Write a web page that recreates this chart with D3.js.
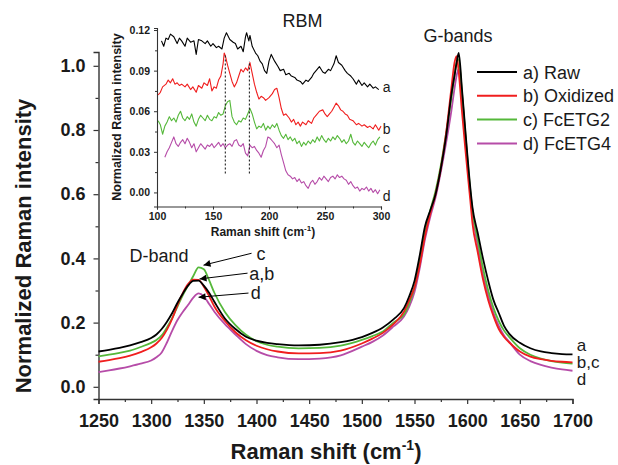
<!DOCTYPE html>
<html><head><meta charset="utf-8">
<script src="https://cdn.jsdelivr.net/npm/d3@7"></script>
<style>
body{margin:0;background:#fff}
svg{display:block}
text{font-family:"Liberation Sans",Arial,Helvetica,sans-serif;fill:#1a1a1a}
</style>
</head><body>
<svg id="chart" width="618" height="465"></svg>
<script>
// ---------- main spectra (Raman shift, cm-1) ----------
const shift = [1250,1260,1270,1280,1290,1300,1305,1310,1315,1320,1325,1330,1335,1340,1345,1350,1355,1360,1370,1380,1390,1400,1410,1420,1440,1460,1480,1500,1510,1520,1530,1540,1545,1550,1555,1560,1565,1570,1575,1580,1585,1588,1590,1592,1595,1598,1600,1603,1605,1610,1615,1620,1625,1630,1635,1640,1650,1660,1670,1680,1690,1700];
const rawI = [.110,.115,.121,.129,.139,.152,.163,.180,.203,.230,.262,.290,.315,.330,.331,.315,.293,.265,.213,.180,.156,.144,.137,.133,.129,.131,.139,.155,.168,.185,.210,.245,.282,.330,.410,.500,.550,.600,.680,.780,.910,.970,1.010,1.040,.930,.810,.730,.620,.560,.480,.400,.330,.270,.230,.190,.165,.137,.120,.110,.105,.102,.101];
const oxiI = [.078,.083,.089,.097,.108,.123,.135,.152,.178,.212,.255,.292,.320,.334,.333,.312,.283,.250,.205,.170,.145,.128,.117,.110,.104,.105,.113,.135,.150,.168,.195,.234,.270,.310,.380,.470,.540,.600,.680,.790,.930,1.010,1.030,.980,.860,.750,.680,.580,.510,.420,.335,.270,.220,.180,.155,.138,.110,.094,.086,.081,.078,.076];
const fc2I = [.095,.100,.106,.113,.124,.137,.146,.160,.185,.215,.250,.285,.315,.345,.372,.366,.332,.293,.233,.192,.162,.142,.131,.125,.120,.121,.128,.146,.158,.172,.200,.225,.260,.310,.390,.480,.550,.610,.690,.790,.900,.970,1.010,1.020,.920,.800,.720,.610,.550,.460,.370,.300,.245,.205,.175,.155,.120,.100,.088,.080,.075,.072];
const fc4I = [.046,.051,.057,.064,.072,.082,.092,.107,.138,.175,.208,.233,.255,.278,.291,.282,.258,.234,.195,.163,.133,.112,.099,.092,.086,.088,.098,.125,.140,.160,.188,.219,.250,.295,.370,.460,.530,.590,.670,.760,.860,.930,.970,.990,.910,.790,.710,.600,.540,.440,.350,.285,.230,.190,.160,.140,.100,.080,.068,.060,.054,.050];

// ---------- RBM inset spectra [shift, intensity] ----------
const rbmRaw = [[104,.112],[106,.108],[108,.114],[110,.113],[112,.117],[115,.115],[118,.110],[120,.114],[122,.112],[125,.108],[127,.114],[130,.111],[133,.112],[135,.102],[137,.113],[140,.112],[143,.110],[145,.112],[148,.108],[150,.110],[153,.107],[155,.108],[158,.106],[160,.114],[162,.118],[165,.113],[168,.111],[170,.110],[172,.106],[175,.108],[177,.104],[179,.115],[180,.118],[182,.112],[183,.116],[185,.108],[188,.103],[190,.101],[192,.097],[194,.095],[196,.090],[198,.088],[200,.097],[202,.102],[205,.097],[208,.093],[210,.090],[213,.091],[215,.087],[218,.088],[220,.086],[223,.085],[225,.083],[228,.082],[230,.080],[233,.083],[235,.082],[238,.085],[240,.088],[243,.091],[245,.093],[248,.089],[250,.088],[253,.091],[255,.090],[258,.095],[260,.101],[262,.096],[265,.094],[268,.090],[270,.088],[273,.086],[275,.084],[278,.080],[280,.083],[283,.079],[285,.081],[288,.078],[290,.080],[293,.077],[295,.078],[298,.076]];
const rbmOxi = [[101,.072],[103,.074],[105,.078],[108,.080],[110,.083],[112,.081],[114,.084],[116,.080],[118,.081],[120,.079],[122,.080],[125,.078],[127,.080],[130,.076],[132,.078],[135,.074],[137,.079],[140,.077],[142,.081],[145,.079],[147,.084],[149,.075],[151,.078],[153,.077],[155,.083],[157,.086],[159,.095],[160,.103],[161,.101],[163,.094],[165,.088],[167,.082],[169,.078],[171,.081],[173,.086],[175,.091],[177,.089],[179,.092],[181,.090],[183,.096],[185,.088],[187,.080],[189,.074],[191,.069],[193,.071],[195,.070],[197,.068],[200,.070],[203,.073],[205,.076],[207,.077],[209,.070],[211,.062],[213,.057],[215,.058],[218,.055],[220,.052],[222,.054],[224,.050],[226,.052],[228,.049],[230,.052],[233,.050],[235,.053],[238,.051],[240,.055],[242,.057],[245,.060],[248,.061],[250,.058],[252,.056],[254,.058],[256,.060],[258,.063],[260,.066],[262,.064],[264,.061],[266,.060],[268,.058],[270,.057],[272,.054],[275,.053],[278,.050],[280,.051],[283,.049],[285,.050],[288,.048],[290,.049],[293,.047],[295,.050],[298,.046],[300,.049]];
const rbmFc2 = [[101,.053],[103,.050],[105,.043],[107,.049],[109,.052],[111,.056],[113,.053],[115,.055],[117,.052],[119,.057],[121,.060],[123,.055],[125,.053],[127,.056],[129,.054],[131,.058],[133,.052],[135,.049],[137,.054],[139,.057],[141,.055],[143,.053],[145,.057],[147,.054],[149,.053],[151,.056],[153,.055],[155,.059],[157,.057],[159,.058],[161,.064],[163,.067],[165,.068],[167,.056],[169,.052],[171,.050],[173,.053],[175,.052],[177,.055],[179,.054],[181,.058],[183,.062],[185,.058],[187,.052],[189,.047],[191,.049],[193,.048],[195,.051],[197,.046],[199,.049],[201,.047],[203,.050],[205,.048],[207,.051],[209,.046],[211,.042],[213,.040],[215,.043],[217,.039],[219,.041],[221,.038],[223,.040],[225,.036],[227,.038],[229,.034],[231,.037],[233,.035],[235,.038],[237,.036],[239,.039],[241,.037],[243,.041],[245,.038],[247,.042],[249,.039],[251,.037],[253,.040],[255,.038],[257,.041],[259,.039],[261,.042],[263,.040],[265,.037],[267,.039],[269,.036],[271,.038],[273,.043],[275,.037],[277,.035],[279,.038],[281,.036],[283,.034],[285,.037],[287,.035],[289,.033],[291,.036],[293,.038],[295,.035],[297,.039],[299,.041]];
const rbmFc4 = [[107,.026],[109,.030],[111,.033],[113,.037],[115,.041],[117,.036],[119,.034],[121,.037],[123,.039],[125,.036],[127,.040],[129,.037],[131,.033],[133,.036],[135,.030],[137,.033],[139,.036],[141,.034],[143,.032],[145,.035],[147,.034],[149,.036],[151,.033],[153,.035],[155,.037],[157,.034],[159,.036],[161,.033],[163,.035],[165,.036],[167,.034],[169,.038],[171,.039],[173,.035],[175,.034],[177,.036],[179,.029],[181,.027],[183,.035],[185,.033],[187,.034],[189,.031],[191,.029],[193,.026],[195,.031],[197,.034],[199,.041],[201,.040],[203,.038],[205,.036],[207,.033],[209,.035],[211,.028],[213,.022],[215,.016],[217,.013],[219,.012],[221,.010],[223,.011],[225,.008],[227,.010],[229,.007],[231,.008],[233,.005],[235,.003],[237,.007],[239,.009],[241,.006],[243,.008],[245,.011],[247,.009],[249,.012],[251,.010],[253,.008],[255,.011],[257,.012],[259,.010],[261,.013],[263,.011],[265,.012],[267,.010],[269,.009],[271,.006],[273,.008],[275,.005],[277,.003],[279,.004],[281,.001],[283,.003],[285,.002],[287,.004],[289,.001],[291,.003],[293,.000],[295,.002],[297,-.001],[299,.002]];

// ---------- ticks / labels ----------
const xTicks = [1250,1300,1350,1400,1450,1500,1550,1600,1650,1700];
const xMinor = [1275,1325,1375,1425,1475,1525,1575,1625,1675];
const yTicks = [0.0,0.2,0.4,0.6,0.8,1.0];
const yMinor = [0.1,0.3,0.5,0.7,0.9];
const insXTicks = [100,150,200,250,300];
const insXMinor = [125,175,225,275];
const insYTicks = [0.00,0.03,0.06,0.09,0.12];
const insYMinor = [0.015,0.045,0.075,0.105];
const seriesNames = ["a) Raw","b) Oxidized","c) FcETG2","d) FcETG4"];
const seriesColors = ["#000000","#f01e1e","#55b83a","#b64ca8"];
const rbmMarkers = [161,182.5];

const svg = d3.select("#chart");

// ---------- scales ----------
const x = d3.scaleLinear().domain([1250,1700]).range([98.5,572.5]);
const y = d3.scaleLinear().domain([-0.038,1.043]).range([399,52]);
const ix = d3.scaleLinear().domain([100,300]).range([157,381]);
const iy = d3.scaleLinear().domain([-0.0104,0.1215]).range([206.5,28]);

// ---------- main axes ----------
function styleAxis(g){
  g.select(".domain").attr("stroke","#333").attr("stroke-width",1.4);
  g.selectAll(".tick line").attr("stroke","#333").attr("stroke-width",1.2);
}
const gx = svg.append("g").attr("transform","translate(0,399)")
  .call(d3.axisBottom(x).tickValues(xTicks).tickSize(5).tickPadding(10).tickFormat(d3.format("d")));
styleAxis(gx);
gx.selectAll("text").attr("font-size",18).attr("font-weight","bold").attr("fill","#1a1a1a")
  .style("font-family","Liberation Sans, Arial, sans-serif");
const gxm = svg.append("g").attr("transform","translate(0,399)")
  .call(d3.axisBottom(x).tickValues(xMinor).tickSize(3).tickFormat(""));
styleAxis(gxm); gxm.select(".domain").remove();

const gy = svg.append("g").attr("transform","translate(98.5,0)")
  .call(d3.axisLeft(y).tickValues(yTicks).tickSize(5).tickPadding(8).tickFormat(d3.format(".1f")));
styleAxis(gy);
gy.selectAll("text").attr("font-size",18).attr("font-weight","bold").attr("fill","#1a1a1a")
  .style("font-family","Liberation Sans, Arial, sans-serif");
const gym = svg.append("g").attr("transform","translate(98.5,0)")
  .call(d3.axisLeft(y).tickValues(yMinor).tickSize(3).tickFormat(""));
styleAxis(gym); gym.select(".domain").remove();

// axis titles
const xt = svg.append("text").attr("x",326).attr("y",459).attr("text-anchor","middle")
  .attr("font-size",22).attr("font-weight","bold");
xt.append("tspan").text("Raman shift (cm");
xt.append("tspan").attr("font-size",14).attr("dy",-9).text("-1");
xt.append("tspan").attr("dy",9).text(")");
svg.append("text").attr("transform","translate(31,246) rotate(-90)").attr("text-anchor","middle")
  .attr("font-size",22).attr("font-weight","bold").text("Normalized Raman intensity");

// ---------- main lines ----------
const mainSeries = [rawI,oxiI,fc2I,fc4I];
const line = d3.line().x((d,i)=>x(shift[i])).y(d=>y(d)).curve(d3.curveMonotoneX);
[3,2,1,0].forEach(k=>{
  svg.append("path").datum(mainSeries[k]).attr("d",line)
    .attr("fill","none").attr("stroke",seriesColors[k]).attr("stroke-width",1.8)
    .attr("stroke-linejoin","round");
});

// ---------- annotations ----------
svg.append("defs").append("marker").attr("id","ah").attr("viewBox","0 0 10 10")
  .attr("refX",10).attr("refY",5).attr("markerWidth",9).attr("markerHeight",7)
  .attr("markerUnits","userSpaceOnUse").attr("orient","auto")
  .append("path").attr("d","M0,0L10,5L0,10Z").attr("fill","#000");
const arrows = [
  {from:[1395.3,0.416],to:[1349.7,0.379]},
  {from:[1391.5,0.354],to:[1345.9,0.336]},
  {from:[1392.4,0.292],to:[1345.0,0.279]}
];
arrows.forEach(a=>{
  svg.append("line").attr("x1",x(a.from[0])).attr("y1",y(a.from[1]))
    .attr("x2",x(a.to[0])).attr("y2",y(a.to[1]))
    .attr("stroke","#000").attr("stroke-width",1).attr("marker-end","url(#ah)");
});
const labels = [
  {t:"c",x:1400,y:0.395,s:18},{t:"a,b",x:1393,y:0.333,s:18},{t:"d",x:1394.5,y:0.274,s:18},
  {t:"D-band",x:1279.4,y:0.388,s:18},{t:"G-bands",x:1558.6,y:1.074,s:18},
  {t:"a",x:1704,y:0.112,s:17},{t:"b,c",x:1704,y:0.059,s:17},{t:"d",x:1704,y:0.006,s:17}
];
labels.forEach(l=>{
  svg.append("text").attr("x",x(l.x)).attr("y",y(l.y)).attr("font-size",l.s).text(l.t);
});

// ---------- legend ----------
const lg = svg.append("g").attr("transform","translate(477,72)");
seriesNames.forEach((n,i)=>{
  lg.append("line").attr("x1",0).attr("x2",40).attr("y1",i*23.8).attr("y2",i*23.8)
    .attr("stroke",seriesColors[i]).attr("stroke-width",2);
  lg.append("text").attr("x",46).attr("y",i*23.8+6.5).attr("font-size",18).text(n);
});

// ---------- inset ----------
function styleIns(g){
  g.select(".domain").attr("stroke","#333").attr("stroke-width",1.1);
  g.selectAll(".tick line").attr("stroke","#333").attr("stroke-width",1);
  g.selectAll("text").attr("font-size",10.5).attr("font-weight","bold").attr("fill","#1a1a1a")
    .style("font-family","Liberation Sans, Arial, sans-serif");
}
const ig = svg.append("g");
const igx = ig.append("g").attr("transform","translate(0,206.5)")
  .call(d3.axisBottom(ix).tickValues(insXTicks).tickSize(3).tickPadding(3).tickFormat(d3.format("d")));
styleIns(igx);
const igxm = ig.append("g").attr("transform","translate(0,206.5)")
  .call(d3.axisBottom(ix).tickValues(insXMinor).tickSize(2).tickFormat(""));
styleIns(igxm); igxm.select(".domain").remove();
const igy = ig.append("g").attr("transform","translate(157,0)")
  .call(d3.axisLeft(iy).tickValues(insYTicks).tickSize(3).tickPadding(4).tickFormat(d3.format(".2f")));
styleIns(igy);
const igym = ig.append("g").attr("transform","translate(157,0)")
  .call(d3.axisLeft(iy).tickValues(insYMinor).tickSize(2).tickFormat(""));
styleIns(igym); igym.select(".domain").remove();

const ixt = ig.append("text").attr("x",263).attr("y",236).attr("text-anchor","middle")
  .attr("font-size",12).attr("font-weight","bold");
ixt.append("tspan").text("Raman shift (cm");
ixt.append("tspan").attr("font-size",8).attr("dy",-5).text("-1");
ixt.append("tspan").attr("dy",5).text(")");
ig.append("text").attr("transform","translate(121,117) rotate(-90)").attr("text-anchor","middle")
  .attr("font-size",12.5).attr("font-weight","bold").text("Normalized Raman intensity");
ig.append("text").attr("x",ix(230)).attr("y",iy(0.1222)).attr("text-anchor","middle")
  .attr("font-size",18).text("RBM");

const iline = d3.line().x(d=>ix(d[0])).y(d=>iy(d[1]));
const insSeries = [rbmRaw,rbmOxi,rbmFc2,rbmFc4];
insSeries.forEach((s,k)=>{
  ig.append("path").datum(s).attr("d",iline).attr("fill","none")
    .attr("stroke",seriesColors[k]).attr("stroke-width",1.1).attr("stroke-linejoin","round");
});
// dashed markers
const markTop = [0.102,0.097];
rbmMarkers.forEach((m,i)=>{
  ig.append("line").attr("x1",ix(m)).attr("x2",ix(m)).attr("y1",iy(0.014)).attr("y2",iy(markTop[i]))
    .attr("stroke","#222").attr("stroke-width",1.1).attr("stroke-dasharray","2,2");
});
const insLabels = [{t:"a",y:0.074},{t:"b",y:0.0435},{t:"c",y:0.029},{t:"d",y:-0.006}];
insLabels.forEach(l=>{
  ig.append("text").attr("x",ix(301.5)).attr("y",iy(l.y)).attr("font-size",14).text(l.t);
});
</script>
</body></html>
